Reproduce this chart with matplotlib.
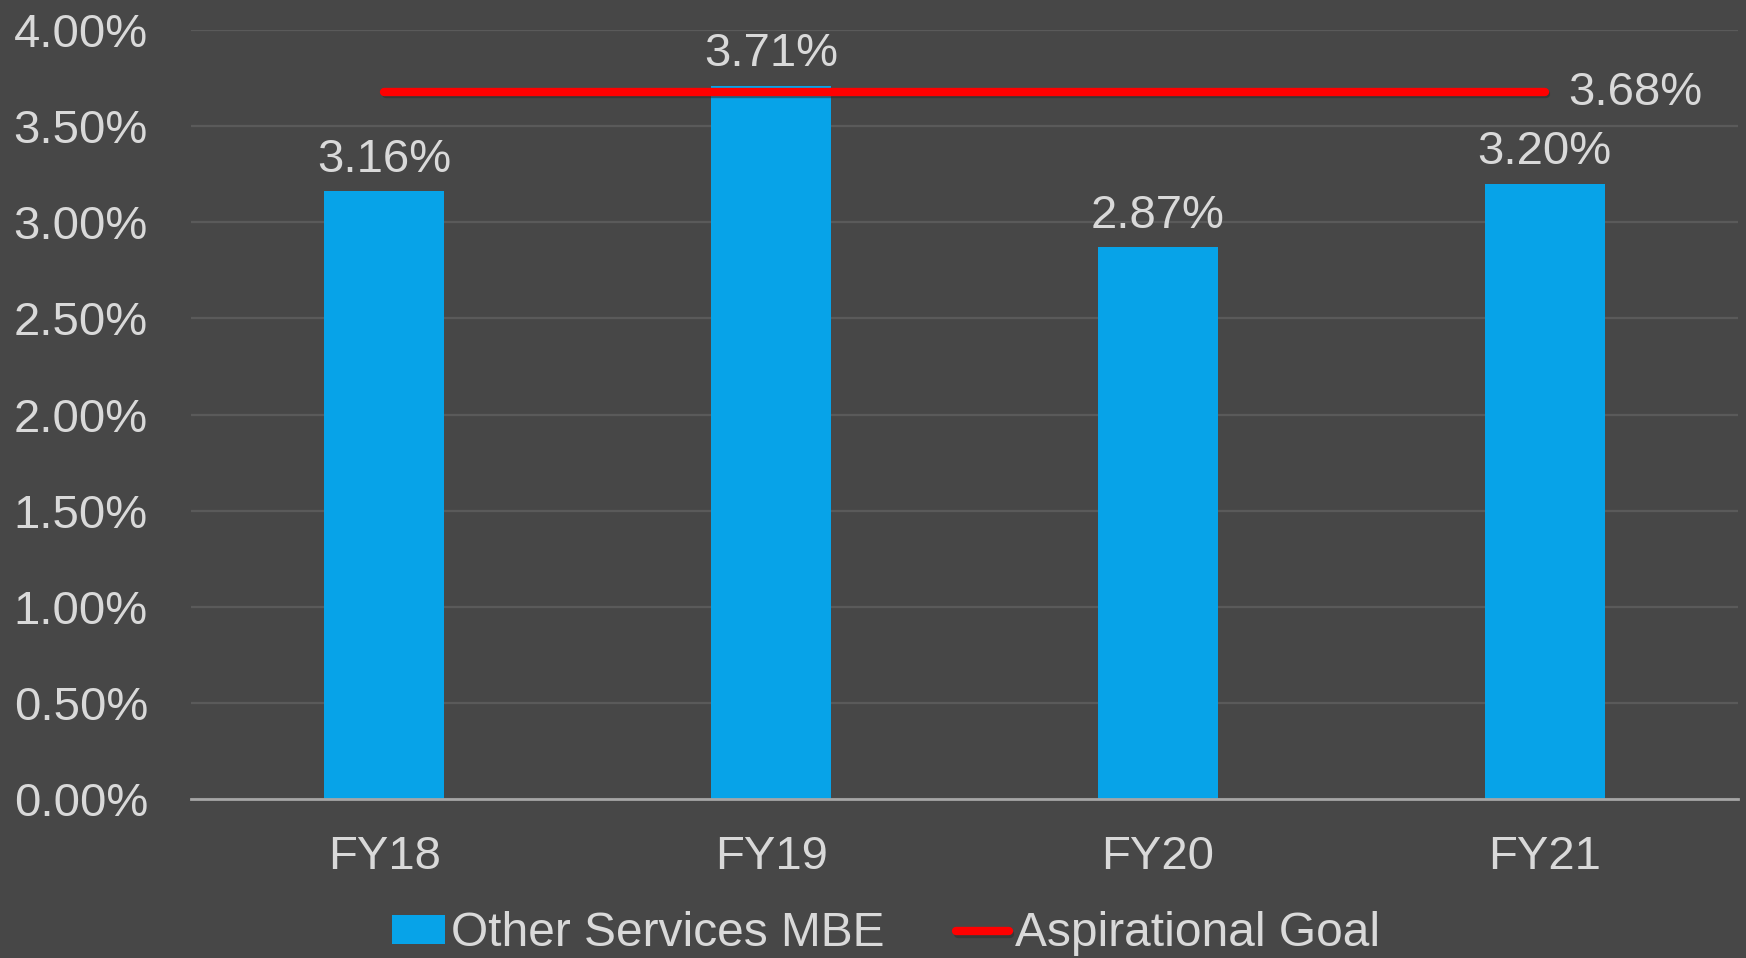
"""
Other Services MBE vs aspirational goal
"""

import matplotlib
matplotlib.use("Agg")
import matplotlib.pyplot as plt
import matplotlib.patheffects as pe
from matplotlib.ticker import FuncFormatter

years = ["FY18", "FY19", "FY20", "FY21"]
mbe = [3.16, 3.71, 2.87, 3.20]
goal = [3.68, 3.68, 3.68, 3.68]
yticks = [0.0, 0.5, 1.0, 1.5, 2.0, 2.5, 3.0, 3.5, 4.0]

bg = "#474747"
txt = "#D9D9D9"
blue = "#07A3E8"
red = "#FF0000"

plt.rcParams["font.family"] = ["Liberation Sans", "DejaVu Sans"]

fig = plt.figure(figsize=(17.46, 9.58), dpi=100, facecolor=bg)
ax = fig.add_axes([191 / 1746, 159 / 958, 1547 / 1746, 769 / 958])
ax.set_facecolor(bg)

x = list(range(len(years)))
bars = ax.bar(x, mbe, width=0.31, color=blue, zorder=2, label="Other Services MBE")
line, = ax.plot(x, goal, color=red, lw=6, solid_capstyle="round", zorder=3,
                label="Aspirational Goal",
                path_effects=[pe.SimpleLineShadow(offset=(1, -2), shadow_color="#2a2a2a",
                                                  alpha=0.5),
                              pe.Normal()])

for xi, v in zip(x, mbe):
    ax.annotate(f"{v:.2f}%", (xi, v), xytext=(0, 7), textcoords="offset points",
                ha="center", va="bottom", fontsize=34, color=txt)
ax.annotate(f"{goal[-1]:.2f}%", (x[-1], goal[-1]), xytext=(17, -1),
            textcoords="offset points", ha="left", va="center",
            fontsize=34, color=txt)

ax.set_xlim(-0.5, 3.5)
ax.set_ylim(0, 4.0)
ax.set_xticks(x)
ax.set_xticklabels(years)
ax.set_yticks(yticks)
ax.yaxis.set_major_formatter(FuncFormatter(lambda v, p: f"{v:.2f}%"))
ax.tick_params(axis="y", length=0, pad=31, labelsize=34, labelcolor=txt)
ax.tick_params(axis="x", length=0, pad=26, labelsize=34, labelcolor=txt)

ax.grid(axis="y", color="#5A5A5A", lw=1.6, zorder=0)
ax.set_axisbelow(True)
for s in ["top", "right", "left"]:
    ax.spines[s].set_visible(False)
ax.spines["bottom"].set_color("#A6A6A6")
ax.spines["bottom"].set_linewidth(2)
ax.spines["bottom"].set_zorder(4)

fig.legend([bars, line], ["Other Services MBE", "Aspirational Goal"],
           loc="center", bbox_to_anchor=(886 / 1746, 1 - 934 / 958),
           ncol=2, frameon=False, fontsize=34.5, labelcolor=txt,
           handlelength=1.1, handleheight=0.55, handletextpad=0.12,
           columnspacing=1.5, borderpad=0, borderaxespad=0)

fig.savefig("out.png", dpi=100, facecolor=bg)
